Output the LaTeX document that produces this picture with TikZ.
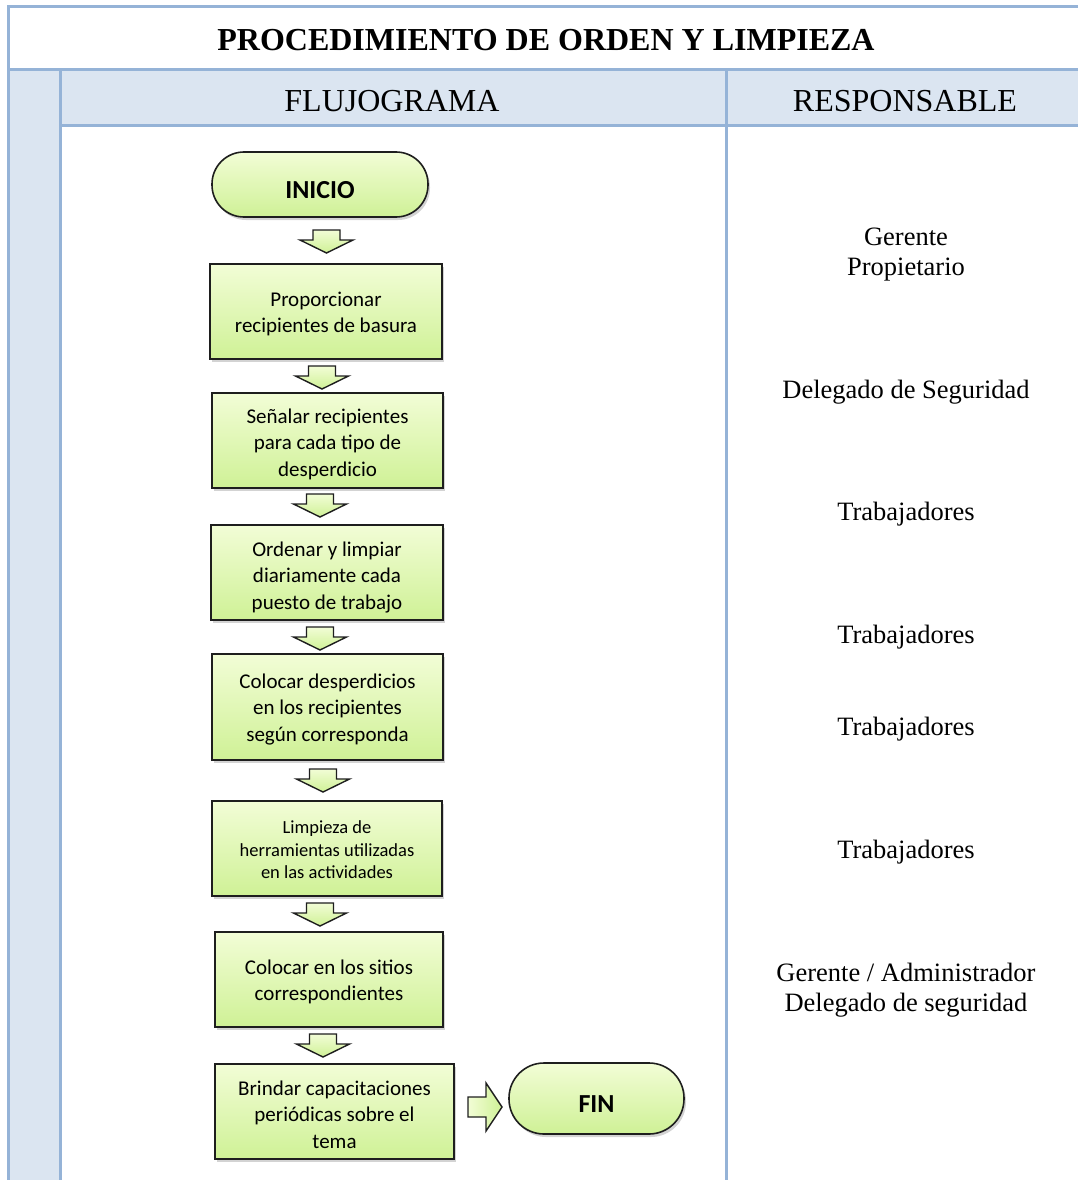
\documentclass[tikz,border=0pt]{standalone}
\usepackage{fontspec}
\setmainfont{Liberation Serif}
\newfontfamily\boxfont{Carlito}
\usetikzlibrary{shadows}
\definecolor{tblline}{RGB}{149,179,215}
\definecolor{tblfill}{RGB}{219,229,241}
\definecolor{gtop}{RGB}{242,253,214}
\definecolor{gbot}{RGB}{207,241,150}
\definecolor{edge}{RGB}{30,30,30}
\tikzset{
  tline/.style={draw=tblline, line width=3pt},
  procbox/.style={rectangle, draw=edge, line width=1.6pt, top color=gtop, bottom color=gbot,
     drop shadow={opacity=0.35, shadow xshift=2pt, shadow yshift=-3pt}, inner sep=0pt},
  termbox/.style={rectangle, rounded corners=32pt, draw=edge, line width=1.6pt, top color=gtop, bottom color=gbot,
     drop shadow={opacity=0.35, shadow xshift=2pt, shadow yshift=-3pt}, inner sep=0pt},
  boxtext/.style={align=center, inner sep=0pt, font=\boxfont\fontsize{21}{26.5}\selectfont},
  smalltext/.style={align=center, inner sep=0pt, font=\boxfont\fontsize{18.5}{22.5}\selectfont},
  termtext/.style={inner sep=0pt, font=\boxfont\bfseries\fontsize{26}{30}\selectfont},
  resp/.style={align=center, inner sep=0pt, font=\fontsize{26.5}{30}\selectfont},
  head/.style={inner sep=0pt, font=\fontsize{32}{36}\selectfont},
  arrowfill/.style={draw=edge, line width=1.4pt, top color=gtop, bottom color=gbot, line join=miter},
  downarr/.pic={\path[arrowfill] (-13.5,0) -- (13.5,0) -- (13.5,10) -- (26.5,10) -- (0,23) -- (-26.5,10) -- (-13.5,10) -- cycle;},
  rightarr/.pic={\path[arrowfill, left color=gtop, right color=gbot] (0,-10) -- (18,-10) -- (18,-24) -- (34,0) -- (18,24) -- (18,10) -- (0,10) -- cycle;}
}
\begin{document}
\begin{tikzpicture}[x=1pt,y=-1pt]
\useasboundingbox (0,0) rectangle (1078,1180);
\begin{scope}
\clip (0,0) rectangle (1078,1180);
% table fills
\fill[tblfill] (60,70) rectangle (1078,126);
\fill[tblfill] (8,70) rectangle (60,1185);
% table lines
\draw[tline] (8,1185) -- (8,7) -- (1080,7);
\draw[tline] (8,70) -- (1080,70);
\draw[tline] (60,126) -- (1080,126);
\draw[tline] (60,70) -- (60,1185);
\draw[tline] (726,70) -- (726,1185);
\end{scope}
% headings
\node[head, font=\bfseries\fontsize{32}{36}\selectfont] (title) at (546,40) {PROCEDIMIENTO DE ORDEN Y LIMPIEZA};
\node[head] (hflujo) at (392,101) {FLUJOGRAMA};
\node[head] (hresp) at (905,101) {RESPONSABLE};
% flow nodes
\node[termbox, minimum width=216pt, minimum height=65pt] (inicio) at (320,184.5) {};
\node[termtext] (tinicio) at (320,190) {INICIO};
\node[procbox, minimum width=232pt, minimum height=95pt] (b1) at (326,311.5) {};
\node[boxtext] (t1) at (326,314) {Proporcionar\\recipientes de basura};
\node[procbox, minimum width=231pt, minimum height=95pt] (b2) at (327.5,440.5) {};
\node[boxtext] (t2) at (327.5,444) {Señalar recipientes\\para cada tipo de\\desperdicio};
\node[procbox, minimum width=232pt, minimum height=95pt] (b3) at (327,572.5) {};
\node[boxtext] (t3) at (327,577.5) {Ordenar y limpiar\\diariamente cada\\puesto de trabajo};
\node[procbox, minimum width=231pt, minimum height=106pt] (b4) at (327.5,707) {};
\node[boxtext] (t4) at (327.5,709.5) {Colocar desperdicios\\en los recipientes\\según corresponda};
\node[procbox, minimum width=230pt, minimum height=95pt] (b5) at (327,848.5) {};
\node[smalltext] (t5) at (327,850) {Limpieza de\\herramientas utilizadas\\en las actividades};
\node[procbox, minimum width=228pt, minimum height=95pt] (b6) at (329,979.5) {};
\node[boxtext] (t6) at (329,982) {Colocar en los sitios\\correspondientes};
\node[procbox, minimum width=239pt, minimum height=95pt] (b7) at (334.5,1111.5) {};
\node[boxtext] (t7) at (334.5,1114.5) {Brindar capacitaciones\\periódicas sobre el\\tema};
\node[termbox, rounded corners=35pt, minimum width=175pt, minimum height=71pt] (fin) at (596.5,1098.5) {};
\node[termtext] (tfin) at (596.5,1104) {FIN};
% block arrows
\pic (a1) at (326.5,230) {downarr};
\pic (a2) at (322,366) {downarr};
\pic (a3) at (320,494) {downarr};
\pic (a4) at (320,627) {downarr};
\pic (a5) at (323,769) {downarr};
\pic (a6) at (320,903) {downarr};
\pic (a7) at (323,1034) {downarr};
\pic (a8) at (468,1107) {rightarr};
% responsables
\node[resp] (r1) at (906,254.5) {Gerente\\Propietario};
\node[resp] (r2) at (906,392) {Delegado de Seguridad};
\node[resp] (r3) at (906,514) {Trabajadores};
\node[resp] (r4) at (906,637) {Trabajadores};
\node[resp] (r5) at (906,729) {Trabajadores};
\node[resp] (r6) at (906,852) {Trabajadores};
\node[resp] (r7) at (906,990) {Gerente / Administrador\\Delegado de seguridad};
\end{tikzpicture}
\end{document}
